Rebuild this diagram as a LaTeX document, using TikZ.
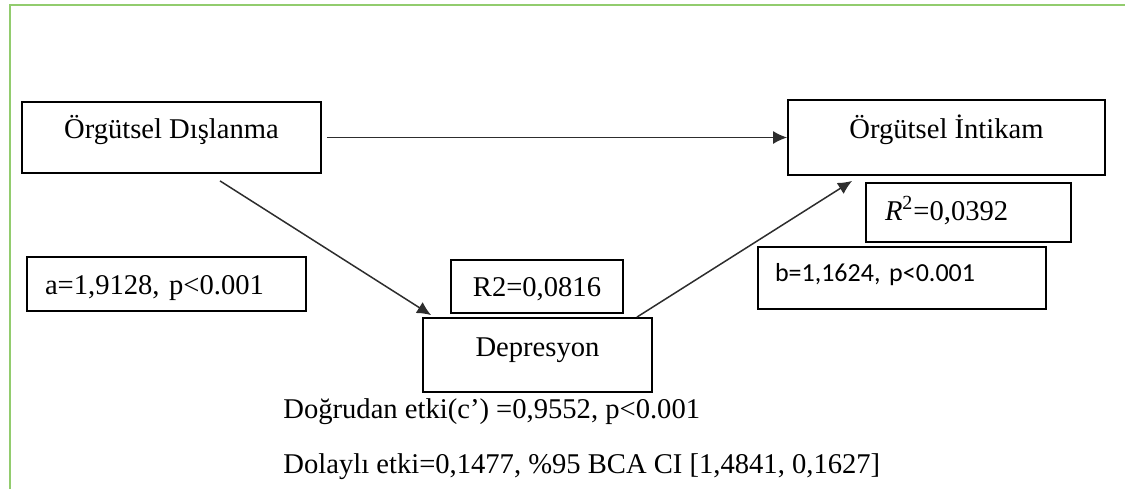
\documentclass[tikz,border=0pt]{standalone}
\usepackage{fontspec}
\setmainfont{Liberation Serif}
\newfontfamily\calibri{Carlito}
\usetikzlibrary{arrows.meta,calc}
\definecolor{framegreen}{RGB}{146,204,110}
\definecolor{linegray}{RGB}{45,45,45}
\frenchspacing
\begin{document}
\begin{tikzpicture}[x=0.5pt,y=-0.5pt,
  varbox/.style={draw, line width=0.9pt, inner sep=0pt, text height=9pt, text depth=8pt, font=\fontsize{14.3}{17}\selectfont},
  coef/.style={draw, line width=0.9pt, inner ysep=0pt, align=left, font=\fontsize{14.3}{17}\selectfont},
  txt/.style={inner sep=0pt, anchor=base west, font=\fontsize{14.3}{17}\selectfont},
  pth/.style={draw, line width=0.75pt, linegray, -{Latex[length=7pt,width=6.5pt]}}]
\useasboundingbox (0,0) rectangle (1125,489);
\draw[framegreen, line width=0.8pt] (10,489) -- (10,5) -- (1125,5);

\node[varbox, minimum width=149.5pt, minimum height=35.5pt] (dis) at (171.5,137.5) {Örgütsel Dışlanma};
\node[varbox, minimum width=158.5pt, minimum height=37.5pt] (int) at (946.5,137.5) {Örgütsel İntikam};
\node[varbox, minimum width=114.5pt, minimum height=37pt] (dep) at (537.5,355) {Depresyon};

\node[coef, text width=121.5pt, inner xsep=9pt, minimum height=27pt, text height=12pt, text depth=2pt] (a) at (166.5,284) {a=1,9128, p<0.001};
\node[coef, align=center, inner xsep=0pt, minimum width=86pt, minimum height=26.5pt, text height=12pt, text depth=2.5pt] (r2dep) at (537,286.5) {R2=0,0816};
\node[coef, text width=83.5pt, inner xsep=9.5pt, minimum height=29.5pt, text height=10pt, text depth=2.5pt] (r2int) at (968.5,212.5) {{\itshape R}\textsuperscript{2}=0,0392};
\node[coef, text width=127pt, inner xsep=8.5pt, minimum height=31pt, text height=8pt, text depth=5pt, font=\calibri\fontsize{13}{16}\selectfont] (b) at (902,278) {b=1,1624, p<0.001};

\node[txt] (direct) at (283,418) {Doğrudan etki(c’) =0,9552, p<0.001};
\node[txt] (indirect) at (283,473) {Dolaylı etki=0,1477, \%95 BCA CI [1,4841, 0,1627]};

\path[pth] ($(dis.east)+(5,0)$) -- (int.west);
\path[pth] ($(dis.south)+(48.5,7)$) -- ($(dep.north west)+(9,-2)$);
\path[pth] ($(dep.north east)+(-16,0)$) -- ($(int.south west)+(65,5)$);
\end{tikzpicture}
\end{document}
